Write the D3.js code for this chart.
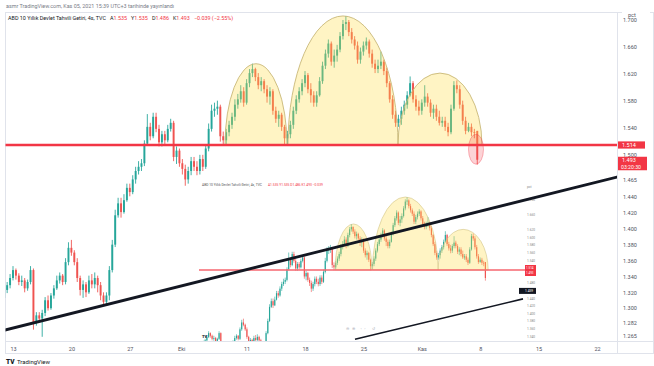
<!DOCTYPE html>
<html><head><meta charset="utf-8">
<script src="https://cdn.jsdelivr.net/npm/d3@7"></script>
<style>
html,body{margin:0;padding:0;background:#fff;}
svg{display:block;font-family:Roboto,"Liberation Sans",sans-serif;}
</style></head><body>
<svg id="chart" width="654" height="366"></svg>
<script>
// ---------- DATA ----------
const firstDay = -0.75;   // trading-day of first 4h candle (0 = 13 Eylül)
const perDay = 4;
const open = [1.313,1.323,1.329,1.338,1.348,1.341,1.333,1.335,1.325,1.333,
1.348,1.282,1.291,1.287,1.294,1.310,1.300,1.316,1.325,1.335,
1.341,1.333,1.358,1.376,1.370,1.358,1.338,1.323,1.330,1.320,
1.335,1.330,1.338,1.329,1.316,1.308,1.316,1.348,1.380,1.417,
1.432,1.421,1.436,1.453,1.447,1.465,1.477,1.483,1.488,1.516,
1.541,1.527,1.556,1.538,1.518,1.530,1.521,1.538,1.547,1.497,
1.506,1.488,1.480,1.465,1.477,1.491,1.483,1.477,1.494,1.483,
1.509,1.538,1.565,1.568,1.571,1.527,1.521,1.533,1.544,1.556,
1.574,1.582,1.594,1.577,1.606,1.621,1.627,1.615,1.603,1.609,
1.597,1.586,1.594,1.565,1.553,1.559,1.541,1.524,1.530,1.544,
1.565,1.582,1.594,1.606,1.618,1.597,1.588,1.577,1.588,1.609,
1.632,1.650,1.665,1.638,1.647,1.656,1.676,1.694,1.697,1.682,
1.671,1.662,1.641,1.653,1.662,1.668,1.650,1.635,1.627,1.632,
1.638,1.624,1.606,1.582,1.559,1.547,1.553,1.565,1.574,1.588,
1.606,1.582,1.571,1.565,1.577,1.586,1.577,1.562,1.568,1.556,
1.547,1.550,1.541,1.533,1.568,1.603,1.597,1.574,1.550,1.535,
1.541,1.533,1.535];
const high = [1.328,1.333,1.343,1.353,1.350,1.344,1.341,1.338,1.336,1.353,
1.350,1.295,1.295,1.298,1.314,1.316,1.319,1.329,1.341,1.345,
1.343,1.363,1.383,1.386,1.373,1.363,1.341,1.335,1.333,1.341,
1.343,1.345,1.341,1.333,1.320,1.320,1.353,1.386,1.424,1.439,
1.439,1.444,1.459,1.459,1.471,1.483,1.491,1.494,1.521,1.560,
1.547,1.562,1.562,1.544,1.535,1.535,1.544,1.553,1.550,1.512,
1.509,1.494,1.486,1.483,1.497,1.497,1.491,1.500,1.500,1.515,
1.546,1.574,1.577,1.580,1.574,1.534,1.538,1.550,1.562,1.582,
1.590,1.603,1.600,1.612,1.627,1.635,1.629,1.621,1.615,1.612,
1.603,1.600,1.597,1.571,1.565,1.562,1.544,1.535,1.550,1.571,
1.588,1.600,1.612,1.624,1.621,1.606,1.594,1.594,1.615,1.638,
1.656,1.671,1.668,1.656,1.663,1.682,1.700,1.706,1.700,1.688,
1.676,1.668,1.659,1.668,1.674,1.671,1.656,1.641,1.641,1.653,
1.641,1.629,1.609,1.588,1.565,1.559,1.571,1.580,1.594,1.616,
1.609,1.588,1.580,1.582,1.603,1.591,1.582,1.574,1.574,1.565,
1.556,1.556,1.547,1.574,1.609,1.610,1.603,1.580,1.556,1.547,
1.546,1.538,1.535];
const low = [1.310,1.319,1.325,1.335,1.336,1.329,1.328,1.320,1.322,1.330,
1.273,1.278,1.282,1.264,1.290,1.297,1.298,1.312,1.323,1.331,
1.329,1.330,1.354,1.366,1.354,1.333,1.316,1.313,1.314,1.318,
1.325,1.325,1.320,1.310,1.303,1.303,1.310,1.345,1.377,1.414,
1.414,1.419,1.434,1.441,1.444,1.459,1.472,1.477,1.484,1.513,
1.521,1.524,1.533,1.512,1.512,1.515,1.518,1.534,1.491,1.487,
1.483,1.472,1.456,1.459,1.471,1.477,1.471,1.472,1.477,1.480,
1.505,1.534,1.556,1.559,1.519,1.513,1.515,1.527,1.538,1.550,
1.568,1.577,1.571,1.574,1.600,1.615,1.609,1.597,1.594,1.591,
1.577,1.574,1.559,1.547,1.541,1.535,1.513,1.515,1.524,1.538,
1.560,1.577,1.588,1.600,1.591,1.577,1.571,1.571,1.586,1.605,
1.627,1.644,1.632,1.629,1.638,1.652,1.671,1.685,1.676,1.665,
1.656,1.635,1.635,1.647,1.656,1.644,1.629,1.621,1.621,1.627,
1.618,1.600,1.577,1.553,1.541,1.541,1.544,1.559,1.568,1.586,
1.577,1.565,1.558,1.559,1.571,1.571,1.556,1.553,1.550,1.543,
1.541,1.535,1.527,1.530,1.565,1.591,1.568,1.544,1.530,1.533,
1.527,1.524,1.486];
const close = [1.323,1.329,1.338,1.348,1.341,1.333,1.335,1.325,1.333,1.348,
1.282,1.291,1.287,1.294,1.310,1.300,1.316,1.325,1.335,1.341,
1.333,1.358,1.376,1.370,1.358,1.338,1.323,1.330,1.320,1.335,
1.330,1.338,1.329,1.316,1.308,1.316,1.348,1.380,1.417,1.432,
1.421,1.436,1.453,1.447,1.465,1.477,1.483,1.488,1.516,1.541,
1.527,1.556,1.538,1.518,1.530,1.521,1.538,1.547,1.497,1.506,
1.488,1.480,1.465,1.477,1.491,1.483,1.477,1.494,1.483,1.509,
1.538,1.565,1.568,1.571,1.527,1.521,1.533,1.544,1.556,1.574,
1.582,1.594,1.577,1.606,1.621,1.627,1.615,1.603,1.609,1.597,
1.586,1.594,1.565,1.553,1.559,1.541,1.524,1.530,1.544,1.565,
1.582,1.594,1.606,1.618,1.597,1.588,1.577,1.588,1.609,1.632,
1.650,1.665,1.638,1.647,1.656,1.676,1.694,1.697,1.682,1.671,
1.662,1.641,1.653,1.662,1.668,1.650,1.635,1.627,1.632,1.638,
1.624,1.606,1.582,1.559,1.547,1.553,1.565,1.574,1.588,1.606,
1.582,1.571,1.565,1.577,1.586,1.577,1.562,1.568,1.556,1.547,
1.550,1.541,1.533,1.568,1.603,1.597,1.574,1.550,1.535,1.541,
1.533,1.532,1.493];

const tickDays   = [0, 5, 10, 14.4, 20, 25, 30, 35, 40, 45, 50];
const tickLabels = ["13","20","27","Eki","11","18","25","Kas","8","15","22"];
const priceTicks = [1.700,1.660,1.620,1.580,1.540,1.500,1.465,1.440,1.420,1.400,1.380,1.360,1.340,1.320,1.300,1.282,1.265];
const insetTicks = [1.700,1.660,1.620,1.600,1.580,1.560,1.540,1.480,1.440,1.420,1.400,1.380,1.360,1.340];

const neckline = 1.514;
const countdown = "03:20:30";
// omuz-baş-omuz kemerleri (başlangıç günü, bitiş günü, tepe değeri)
const domeStart = [18.15, 23.54, 32.96];
const domeEnd   = [23.46, 32.96, 40.15];
const domePeak  = [1.635, 1.706, 1.621];
// trend çizgileri
const trendDays   = [-0.685, 51.71];
const trendValues = [1.2725, 1.4684];
const insetLineDays   = [21.02, 45.15];
const insetLineValues = [1.332, 1.438];
const breakDay = 39.64, breakValue = 1.508;
const crossValue = 1.459;

const headerText = "asmr TradingView.com, Kas 05, 2021 15:39 UTC+3 tarihinde yayınlandı";
const symbolName = "ABD 10 Yıllık Devlet Tahvili Getiri, 4s, TVC";
const ohlcLetters = ["A","Y","D","K"];

// ---------- RENDER ----------
const UP = "#26a69a", DOWN = "#ef5350", RED = "#f23645", GRID = "#e0e3eb", TXT = "#50535e";
const svg = d3.select("#chart");
const candles = open.map((o,i)=>({t:firstDay + i/perDay, o, h:high[i], l:low[i], c:close[i]}));
const last = candles[candles.length-1];
const prevClose = close[close.length-2];
const chg = last.c - prevClose;
const fmt = d3.format(".3f");
const minus = s => s.replace("-","\u2212");

const x = d3.scaleLinear().domain([0,50]).range([13,597]);
const y = d3.scaleLinear().domain([1.265,1.440,1.514,1.700]).range([336,197,145,20]);

const xi = d3.scaleLinear().domain([18.15,39.98]).range([335,487]);
const yi = d3.scaleLinear().domain([1.514,1.706]).range([270,197]);

const defs = svg.append("defs");
defs.append("clipPath").attr("id","mainClip").append("rect").attr("x",5.5).attr("y",13).attr("width",611.5).attr("height",328);
defs.append("clipPath").attr("id","insetClip").append("rect").attr("x",190).attr("y",189).attr("width",333).attr("height",152);

// frame
svg.append("rect").attr("x",0).attr("y",0).attr("width",654).attr("height",366).attr("fill","#fff");
svg.append("text").attr("x",6).attr("y",7.5).attr("font-size",5.4).attr("fill","#787b86").text(headerText);
svg.append("rect").attr("x",5.5).attr("y",12.5).attr("width",648).attr("height",341).attr("fill","none").attr("stroke",GRID).attr("stroke-width",1);
svg.append("line").attr("x1",617.5).attr("x2",617.5).attr("y1",12.5).attr("y2",353.5).attr("stroke",GRID);
svg.append("line").attr("x1",5.5).attr("x2",654).attr("y1",341.5).attr("y2",341.5).attr("stroke",GRID);

function drawCandles(g, xs, ys, spacing){
  const bw = spacing*0.66;
  const sel = g.selectAll("g.cd").data(candles).join("g").attr("class","cd");
  sel.append("line")
    .attr("x1",d=>xs(d.t)).attr("x2",d=>xs(d.t))
    .attr("y1",d=>ys(d.h)).attr("y2",d=>ys(d.l))
    .attr("stroke",d=>d.c>=d.o?UP:DOWN).attr("stroke-width",Math.max(0.6,spacing*0.3));
  sel.append("rect")
    .attr("x",d=>xs(d.t)-bw/2).attr("width",bw)
    .attr("y",d=>ys(Math.max(d.o,d.c)))
    .attr("height",d=>Math.max(0.8,Math.abs(ys(d.o)-ys(d.c))))
    .attr("fill",d=>d.c>=d.o?UP:DOWN);
}
function domePath(xs, ys, a, b, peak){
  const x0=xs(a), x1=xs(b), y0=ys(neckline), y1=ys(peak);
  return `M${x0},${y0} A${(x1-x0)/2},${y0-y1} 0 0 1 ${x1},${y0} Z`;
}

// main pane
const main = svg.append("g").attr("clip-path","url(#mainClip)");
drawCandles(main.append("g"), x, y, x(1/perDay)-x(0));
main.append("g").selectAll("path").data(domeStart).join("path")
  .attr("d",(d,i)=>domePath(x,y,domeStart[i],domeEnd[i],domePeak[i]))
  .attr("fill","rgba(255,222,70,0.32)").attr("stroke","#c8b878").attr("stroke-width",0.9);
main.append("line").attr("x1",5).attr("x2",617).attr("y1",y(neckline)).attr("y2",y(neckline))
  .attr("stroke",RED).attr("stroke-width",2.4);
main.append("ellipse").attr("cx",x(breakDay)).attr("cy",y(breakValue)).attr("rx",7.5).attr("ry",15)
  .attr("fill","rgba(242,54,69,0.22)").attr("stroke","rgba(242,54,69,0.45)").attr("stroke-width",0.8);

// legend
const leg = svg.append("text").attr("x",8).attr("y",19.5).attr("font-size",5.4).attr("fill","#131722");
leg.append("tspan").text(symbolName);
const vals = [last.o,last.h,last.l,last.c];
ohlcLetters.forEach((L,i)=>{
  leg.append("tspan").attr("dx", i===0?4:4).text(L);
  leg.append("tspan").attr("fill",RED).text(fmt(vals[i]));
});
leg.append("tspan").attr("dx",4).attr("fill",RED)
  .text(minus(fmt(chg)) + " (" + minus(d3.format(".2f")(chg/prevClose*100)) + "%)");

// ---------- inset ----------
const inset = svg.append("g");
inset.append("rect").attr("x",186).attr("y",187).attr("width",351).attr("height",154).attr("fill","#fff");
const ic = inset.append("g").attr("clip-path","url(#insetClip)");
drawCandles(ic.append("g"), xi, yi, xi(1/perDay)-xi(0));
ic.append("g").selectAll("path").data(domeStart).join("path")
  .attr("d",(d,i)=>domePath(xi,yi,domeStart[i],domeEnd[i],domePeak[i]))
  .attr("fill","rgba(255,222,70,0.32)").attr("stroke","#d2c487").attr("stroke-width",0.6);
inset.append("line").attr("x1",199).attr("x2",525).attr("y1",yi(neckline)).attr("y2",yi(neckline))
  .attr("stroke","#f6666f").attr("stroke-width",1.3);
inset.append("line").attr("x1",xi(insetLineDays[0])).attr("y1",yi(insetLineValues[0]))
  .attr("x2",xi(insetLineDays[1])).attr("y2",yi(insetLineValues[1]))
  .attr("stroke","#131722").attr("stroke-width",1.6);
const iax = inset.append("g").attr("transform","translate(525,0)")
  .call(d3.axisRight(yi).tickValues(insetTicks).tickSize(0).tickPadding(2).tickFormat(fmt));
iax.select(".domain").remove();
iax.selectAll("text").attr("font-size",3.2).attr("fill","#888").attr("font-family","Roboto,sans-serif");
inset.append("text").attr("x",527).attr("y",187.5).attr("font-size",3.2).attr("fill","#888").text("pct");
inset.append("rect").attr("x",525).attr("y",yi(neckline)-5).attr("width",11).attr("height",11).attr("fill",RED);
inset.append("text").attr("x",526).attr("y",yi(neckline)-1).attr("font-size",3).attr("fill","#fff").text(fmt(neckline));
inset.append("text").attr("x",526).attr("y",yi(neckline)+4).attr("font-size",3).attr("fill","#fff").text(fmt(last.c));
inset.append("rect").attr("x",519).attr("y",yi(crossValue)-3).attr("width",17).attr("height",6).attr("fill","#131722");
inset.append("text").attr("x",525).attr("y",yi(crossValue)+1.2).attr("font-size",3.2).attr("fill","#fff").text(fmt(crossValue));
const it = inset.append("text").attr("x",202).attr("y",186).attr("font-size",3.3).attr("fill","#555");
it.append("tspan").text(symbolName);
it.append("tspan").attr("dx",6).attr("fill",RED).text(ohlcLetters.map((L,i)=>L+fmt(vals[i])).join(" ")+" "+minus(fmt(chg)));
inset.append("text").attr("x",346).attr("y",329.5).attr("font-size",4.2).attr("fill","#b2b5be")
  .attr("letter-spacing",2.5).text("⊖⊕ ‹› ↺");
inset.append("text").attr("x",202).attr("y",338).attr("font-size",4).attr("font-weight",900).attr("fill","#131722").text("TV");

// trend line over everything in plot
svg.append("g").attr("clip-path","url(#mainClip)").append("line")
  .attr("x1",x(trendDays[0])).attr("y1",y(trendValues[0]))
  .attr("x2",x(trendDays[1])).attr("y2",y(trendValues[1]))
  .attr("stroke","#131722").attr("stroke-width",2.8).attr("stroke-linecap","round");

// ---------- axes ----------
const yax = svg.append("g").attr("transform","translate(618,0)")
  .call(d3.axisRight(y).tickValues(priceTicks).tickSize(0).tickPadding(5).tickFormat(fmt));
yax.select(".domain").remove();
yax.selectAll("text").attr("font-size",5.5).attr("fill",TXT).attr("font-family","Roboto,sans-serif");
svg.append("rect").attr("x",622).attr("y",10).attr("width",28).attr("height",8).attr("fill","#fff");
svg.append("text").attr("x",628).attr("y",17).attr("font-size",5.5).attr("fill",TXT).text("pct");

// price labels
svg.append("rect").attr("x",618).attr("y",y(neckline)-3.6).attr("width",27).attr("height",7.2).attr("fill",RED);
svg.append("text").attr("x",622).attr("y",y(neckline)+2).attr("font-size",5.5).attr("fill","#fff").text(fmt(neckline));
svg.append("rect").attr("x",618).attr("y",y(last.c)-3).attr("width",29).attr("height",13.5).attr("fill",RED);
svg.append("text").attr("x",622).attr("y",y(last.c)+2.6).attr("font-size",5.5).attr("fill","#fff").text(fmt(last.c));
svg.append("text").attr("x",621).attr("y",y(last.c)+8.8).attr("font-size",5.2).attr("fill","#fff").text(countdown);

const xax = svg.append("g").attr("transform","translate(0,344)")
  .call(d3.axisBottom(x).tickValues(tickDays).tickSize(0).tickPadding(3).tickFormat((d,i)=>tickLabels[i]));
xax.select(".domain").remove();
xax.selectAll("text").attr("font-size",5.5).attr("fill",TXT).attr("font-family","Roboto,sans-serif");

// footer logo
svg.append("text").attr("x",6).attr("y",364).attr("font-size",6.5).attr("font-weight",900).attr("fill","#131722").text("TV");
svg.append("text").attr("x",17).attr("y",364).attr("font-size",6).attr("fill","#131722").text("TradingView");
</script>
</body></html>
